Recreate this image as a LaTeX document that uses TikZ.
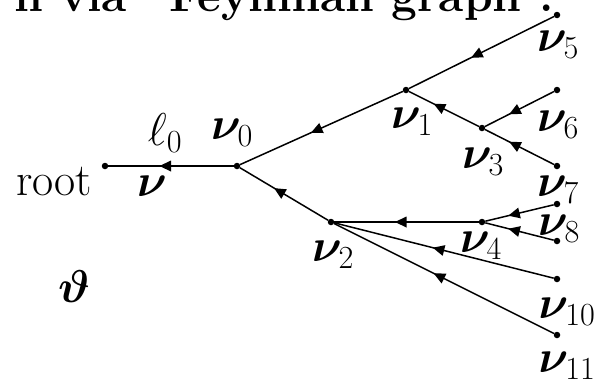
\RequirePackage{fix-cm}
\documentclass[tikz,border=0pt]{standalone}
\usepackage{amsmath,bm}
\usetikzlibrary{decorations.markings}
\begin{document}
\begin{tikzpicture}[x=1pt,y=-1pt,
  every node/.style={font=\fontsize{46}{55}\selectfont, inner sep=0pt},
  dot/.style={circle,fill,inner sep=0pt,minimum size=6.5pt},
  edge/.style={line width=1.5pt,postaction={decorate},
    decoration={markings,mark=at position 0.5 with {\fill (0pt,5.5pt) -- (11.5pt,0pt) -- (0pt,-5.5pt) -- cycle;}}},
  lab/.style={anchor=center}]
\useasboundingbox (0,0) rectangle (598,383);
\node[anchor=base west,font=\fontsize{46}{55}\selectfont\bfseries] (title) at (14,11) {n via ``Feynman graph''.};
% vertices
\node[dot] (r) at (105,166) {};
\node[dot] (v0) at (237,166) {};
\node[dot] (v1) at (406,90) {};
\node[dot] (v2) at (331,222) {};
\node[dot] (v3) at (482,128) {};
\node[dot] (v4) at (482,222) {};
\node[dot] (v5) at (557,15) {};
\node[dot] (v6) at (557,90) {};
\node[dot] (v7) at (557,166) {};
\node[dot] (v8) at (557,204) {};
\node[dot] (v9) at (557,241) {};
\node[dot] (v10) at (557,279) {};
\node[dot] (v11) at (557,335) {};
% edges
\draw[edge] (v0) -- (r);
\draw[edge] (v1) -- (v0);
\draw[edge] (v2) -- (v0);
\draw[edge] (v5) -- (v1);
\draw[edge] (v3) -- (v1);
\draw[edge] (v6) -- (v3);
\draw[edge] (v7) -- (v3);
\draw[edge] (v4) -- (v2);
\draw[edge] (v8) -- (v4);
\draw[edge] (v9) -- (v4);
\draw[edge] (v10) -- (v2);
\draw[edge] (v11) -- (v2);
% labels
\node[anchor=base] (lroot) at (54,195) {root};
\node[lab] (lnu) at (152,186) {$\bm{\nu}$};
\node[lab] (lell) at (165,133) {$\ell_0$};
\node[lab] (l0) at (232,133) {$\bm{\nu}_0$};
\node[lab] (l1) at (412,122) {$\bm{\nu}_1$};
\node[lab] (l2) at (333,255) {$\bm{\nu}_2$};
\node[lab] (l3) at (483,162) {$\bm{\nu}_3$};
\node[lab] (l4) at (481,246) {$\bm{\nu}_4$};
\node[lab] (l5) at (558,45) {$\bm{\nu}_5$};
\node[lab] (l6) at (558,125) {$\bm{\nu}_6$};
\node[lab] (l7) at (558,190) {$\bm{\nu}_7$};
\node[lab] (l8) at (559,229) {$\bm{\nu}_8$};
\node[lab] (l10) at (567,312) {$\bm{\nu}_{10}$};
\node[lab] (l11) at (567,366) {$\bm{\nu}_{11}$};
\node[lab] (th) at (74,287) {$\bm{\vartheta}$};
\end{tikzpicture}
\end{document}
